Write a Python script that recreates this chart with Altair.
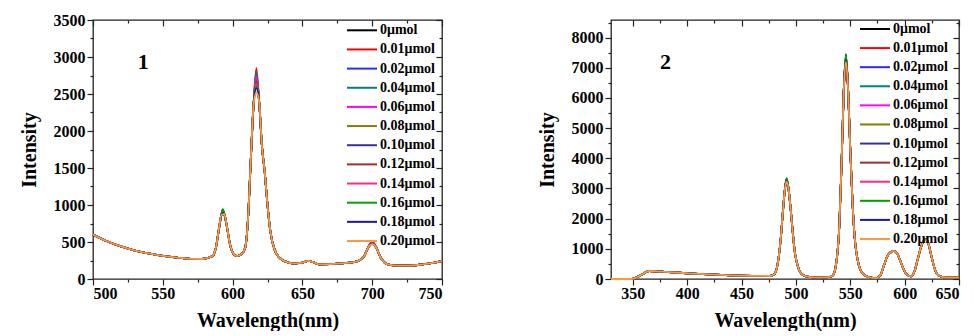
import altair as alt
import pandas as pd

SERIES = ["0μmol", "0.01μmol", "0.02μmol", "0.04μmol", "0.06μmol", "0.08μmol",
          "0.10μmol", "0.12μmol", "0.14μmol", "0.16μmol", "0.18μmol", "0.20μmol"]
COLORS = ["#000000", "#ff0000", "#2a2aff", "#008080", "#ff00ff", "#808000",
          "#33339a", "#9a3030", "#ff2a88", "#00a000", "#1a1a99", "#ff9a3a"]

# Panel 1: shared spectrum shape (wavelength, intensity)
P1_WL = [500, 510, 520, 530, 540, 550, 560, 570, 578, 583, 586, 588, 590, 592,
         594, 596, 598, 600, 603, 606, 609, 611, 613, 615,
         619, 621, 623, 625, 627, 630, 635, 640, 645, 650, 654, 658, 662, 670,
         680, 686, 690, 694, 697, 703, 706, 709, 712, 718, 725, 735, 745, 750]
P1_BASE = [600, 510, 440, 385, 345, 312, 290, 272, 270, 290, 320, 420, 650, 870,
           880, 700, 480, 360, 310, 330, 420, 800, 1600, 2350,
           2400, 1800, 1450, 1000, 650, 400, 265, 222, 210, 220, 245, 225, 198, 200,
           215, 225, 245, 300, 420, 420, 290, 220, 195, 182, 180, 195, 222, 240]
# Panel 1: peak tops per series
P1_PEAK_WL = [593, 617, 700]
P1_PEAK593 = [920, 930, 935, 945, 915, 910, 900, 905, 895, 940, 890, 872]
P1_PEAK617 = [2700, 2850, 2760, 2800, 2740, 2690, 2620, 2670, 2640, 2600, 2580, 2520]
P1_PEAK700 = [490, 512, 495, 490, 500, 485, 480, 490, 485, 480, 476, 470]

# Panel 2: shared spectrum shape
P2_WL = [330, 348, 352, 360, 365, 372, 380, 400, 420, 440, 460, 476, 480, 483,
         486, 488, 490, 493, 495, 497, 499, 502, 506, 512, 520, 530, 534, 537,
         540, 542, 544, 548, 550, 552, 554, 557, 561, 567, 574, 578, 581, 584,
         587, 590, 593, 596, 599, 602, 606, 609, 612, 615, 618, 622, 625, 628,
         632, 638, 650]
P2_BASE = [0, 0, 30, 180, 265, 255, 235, 190, 150, 120, 105, 100, 150, 450,
           1300, 2200, 3000, 3050, 2400, 1600, 900, 400, 150, 70, 50, 60, 120, 500,
           1800, 3800, 6200, 6300, 4300, 2600, 1400, 600, 200, 60, 30, 150, 450, 750,
           880, 930, 850, 600, 330, 150, 90, 250, 650, 1050, 1280, 1150, 700, 300,
           100, 50, 50]
P2_PEAK_WL = [491.5, 546, 620]
P2_PEAK491 = [3330, 3300, 3290, 3320, 3280, 3310, 3270, 3290, 3280, 3340, 3260, 3230]
P2_PEAK546 = [7450, 7350, 7300, 7400, 7320, 7380, 7280, 7340, 7300, 7420, 7250, 7200]
P2_PEAK620 = [1340, 1330, 1320, 1330, 1310, 1320, 1310, 1320, 1300, 1330, 1300, 1290]

FONT = "Liberation Serif"


def build_df(wl, base, peak_wl, peaks):
    rows = []
    for i, s in enumerate(SERIES):
        pts = list(zip(wl, base)) + [(pw, pk[i]) for pw, pk in zip(peak_wl, peaks)]
        pts.sort()
        for w, v in pts:
            rows.append({"wl": w, "I": v, "series": s, "k": i})
    return pd.DataFrame(rows)


df1 = build_df(P1_WL, P1_BASE, P1_PEAK_WL, [P1_PEAK593, P1_PEAK617, P1_PEAK700])
df2 = build_df(P2_WL, P2_BASE, P2_PEAK_WL, [P2_PEAK491, P2_PEAK546, P2_PEAK620])
leg_df = pd.DataFrame({"series": SERIES, "k": list(range(len(SERIES)))})

color_scale = alt.Scale(domain=SERIES, range=COLORS)

AX = dict(labelFont=FONT, labelFontWeight="bold", labelFontSize=16, labelColor="black",
          titleFont=FONT, titleFontWeight="bold", titleFontSize=20, titleColor="black",
          format="d")


def panel(df, xdom, xvals, ydom, yvals, ylab_step, w, h, num, num_xy, leg_x, leg_y):
    xs = alt.Scale(domain=xdom, nice=False, zero=False)
    ys = alt.Scale(domain=ydom, nice=False, zero=False)
    xlab = "datum.value % 50 == 0 ? format(datum.value, 'd') : ''"
    ylab = f"datum.value % {ylab_step} == 0 ? format(datum.value, 'd') : ''"
    xtick = {"condition": {"test": "datum.value % 50 == 0", "value": 6}, "value": 3}
    ytick = {"condition": {"test": f"datum.value % {ylab_step} == 0", "value": 6}, "value": 3}

    lines = alt.Chart(df).mark_line(strokeWidth=1.8, interpolate="monotone").encode(
        x=alt.X("wl:Q", scale=xs, axis=alt.Axis(
            values=xvals, labelExpr=xlab, tickSize=xtick, title="Wavelength(nm)",
            titlePadding=9, labelPadding=0, **AX)),
        y=alt.Y("I:Q", scale=ys, axis=alt.Axis(
            values=yvals, labelExpr=ylab, tickSize=ytick, title="Intensity",
            titlePadding=14, labelPadding=2, **AX)),
        color=alt.Color("series:N", scale=color_scale, legend=None),
        order=alt.Order("k:Q"),
        detail="series:N",
    )
    mirror = alt.Chart(df).mark_point(opacity=0).encode(
        x=alt.X("wl:Q", scale=xs, axis=alt.Axis(
            values=xvals, labels=False, tickSize=xtick, title=None,
            orient="bottom", offset=-h)),
        y=alt.Y("I:Q", scale=ys, axis=alt.Axis(
            values=yvals, labels=False, tickSize=ytick, title=None,
            orient="left", offset=-w)),
    )
    ly = alt.Y("k:O", scale=alt.Scale(type="point", domain=list(range(12)),
                                      range=leg_y, padding=0), axis=None)
    leg_rule = alt.Chart(leg_df).mark_rule(strokeWidth=2).encode(
        x=alt.value(leg_x), x2=alt.value(leg_x + 30), y=ly,
        color=alt.Color("series:N", scale=color_scale, legend=None),
    )
    leg_text = alt.Chart(leg_df).mark_text(
        align="left", baseline="middle", font=FONT, fontWeight="bold",
        fontSize=14, color="black").encode(
        x=alt.value(leg_x + 33), y=ly, text="series:N")
    num_df = pd.DataFrame({"wl": [num_xy[0]], "I": [num_xy[1]], "t": [num]})
    num_text = alt.Chart(num_df).mark_text(
        font=FONT, fontWeight="bold", fontSize=22, baseline="middle",
        align="center", color="black").encode(
        x=alt.X("wl:Q", scale=xs, axis=None),
        y=alt.Y("I:Q", scale=ys, axis=None),
        text="t:N")
    return alt.layer(lines, mirror, leg_rule, leg_text, num_text).resolve_scale(
        x="independent", y="independent").properties(width=w, height=h)


left = panel(df1, [500, 750], list(range(500, 751, 25)), [0, 3500],
             list(range(0, 3501, 250)), 500, 349, 259, "1", (536, 2930),
             254, [10.3, 221])
right = panel(df2, [330, 650], list(range(350, 651, 25)), [0, 8585],
              list(range(0, 8501, 500)), 1000, 348, 259, "2", (380, 7190),
              249, [9, 219])

chart = alt.hconcat(left, right, spacing=169, bounds="flush").configure(
    padding={"left": 10, "top": 3, "right": 0, "bottom": 0},
).configure_view(stroke="#222222", strokeWidth=1.3).configure_axis(
    labelFont=FONT, labelFontWeight="bold", labelFontSize=16, labelColor="black",
    titleFont=FONT, titleFontWeight="bold", titleFontSize=20, titleColor="black",
    domain=False, grid=False, tickColor="#222222", tickWidth=1.2,
)

chart.save("out.html", embed_options={"renderer": "svg", "actions": False})
